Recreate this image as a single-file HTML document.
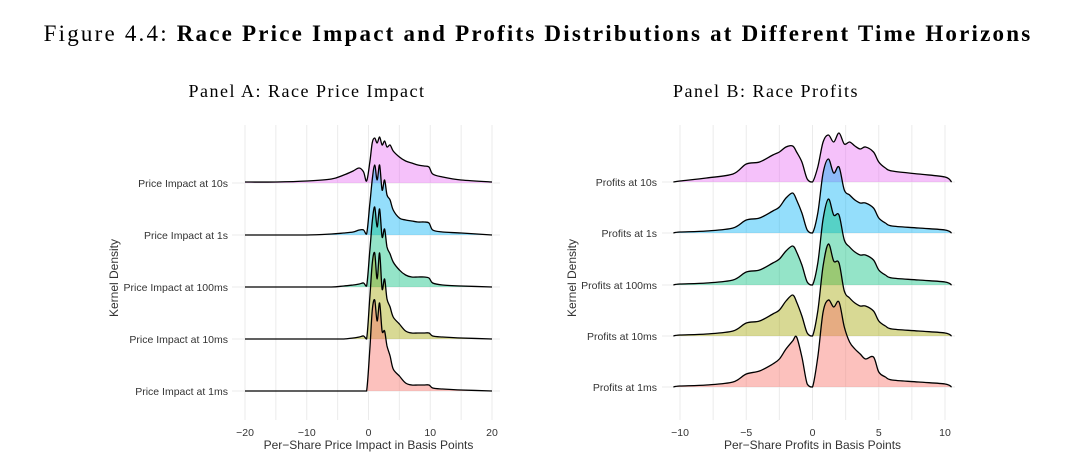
<!DOCTYPE html>
<html><head><meta charset="utf-8"><style>
body{margin:0;background:#fff;}
svg{display:block;}
.t{font-family:"Liberation Sans",sans-serif;fill:#333;}
</style></head><body>
<svg id="c" width="1080" height="466" viewBox="0 0 1080 466" xmlns="http://www.w3.org/2000/svg">
<text x="538" y="41" text-anchor="middle" font-family="Liberation Serif,serif" font-size="23" letter-spacing="2.2" fill="#000">Figure 4.4: <tspan font-weight="bold">Race Price Impact and Profits Distributions at Different Time Horizons</tspan></text>
<text x="307" y="97" text-anchor="middle" font-family="Liberation Serif,serif" font-size="18" letter-spacing="1.5" fill="#000">Panel A: Race Price Impact</text>
<text x="766" y="97" text-anchor="middle" font-family="Liberation Serif,serif" font-size="18" letter-spacing="1.5" fill="#000">Panel B: Race Profits</text>
<g id="pa"></g>
<g id="pb"></g>
</svg>
<script>
const seriesNames=["10s","1s","100ms","10ms","1ms"];
const colors=["rgba(231,107,243,0.42)","rgba(0,176,246,0.42)","rgba(0,191,125,0.42)","rgba(163,165,0,0.42)","rgba(248,118,109,0.45)"];
const xA=[-20,-15,-10,-6,-4,-2.5,-1.5,-0.8,-0.3,0.2,0.6,1,1.4,1.8,2.2,2.6,3,3.5,4,5,6,7,8,9,9.8,10.4,12,15,20];
const a10s=[1,1,2,4,8,12,15,11,2,20,40,45,40,46,38,42,36,38,32,26,22,20,18,17,16,9,6,3,1];
const a1s=[0,0,0,1,2,3,5,5,1,30,55,70,55,70,45,55,40,35,25,17,15,14,13,13,12,5,3,2,0];
const a100ms=[0,0,0,0,1,2,3,4,1,35,65,80,60,78,50,58,40,33,25,17,12,10,10,10,9,4,2,1,0];
const a10ms=[0,0,0,0,0,1,2,3,0,40,75,86,60,86,50,60,40,32,22,15,8,6,6,6,6,3,2,1,0];
const a1ms=[0,0,0,0,0,0,0,0,0,40,80,91,70,88,60,60,45,35,22,15,8,6,6,6,6,3,2,1,0];
const xB=[-10.5,-10,-8,-6,-5,-4,-3,-2.5,-2,-1.5,-1.2,-0.8,-0.4,0,0.4,0.8,1.2,1.6,2,2.4,2.8,3.2,3.6,4,4.6,5,5.5,6,8,10,10.5];
const b10s=[0,1,4,8,18,20,27,30,35,36,30,20,3,0,15,40,47,40,49,38,40,36,33,35,30,20,14,11,8,5,0];
const b1s=[0,1,2,5,13,15,22,26,35,40,33,20,3,0,20,60,74,60,66,43,38,33,30,30,25,15,10,7,5,3,0];
const b100ms=[0,1,2,5,13,15,22,26,34,39,33,20,3,0,22,66,86,70,70,45,38,33,30,30,25,15,10,7,5,3,0];
const b10ms=[0,1,2,5,13,15,22,26,35,41,34,20,3,0,25,70,92,75,73,45,38,33,30,30,25,15,10,7,5,3,0];
const b1ms=[0,1,2,5,13,16,23,28,38,46,50,30,3,0,30,75,87,80,85,60,45,38,33,28,30,15,10,7,5,3,0];
const ticksA=[-20,-10,0,10,20];
const ticksB=[-10,-5,0,5,10];
const NS="http://www.w3.org/2000/svg";
function mk(p,tag,at){const e=document.createElementNS(NS,tag);for(const k in at)e.setAttribute(k,at[k]);p.appendChild(e);return e;}
function path(pts,close,base){let d="M"+pts[0][0]+","+pts[0][1];
 for(let i=0;i<pts.length-1;i++){const p0=pts[Math.max(0,i-1)],p1=pts[i],p2=pts[i+1],p3=pts[Math.min(pts.length-1,i+2)];
 const c1=[p1[0]+(p2[0]-p0[0])/6,p1[1]+(p2[1]-p0[1])/6],c2=[p2[0]-(p3[0]-p1[0])/6,p2[1]-(p3[1]-p1[1])/6];
 c1[1]=Math.min(c1[1],base);c2[1]=Math.min(c2[1],base);
 d+=" C"+c1[0].toFixed(1)+","+c1[1].toFixed(1)+" "+c2[0].toFixed(1)+","+c2[1].toFixed(1)+" "+p2[0].toFixed(1)+","+p2[1].toFixed(1);}
 if(close)d+=" L"+pts[pts.length-1][0]+","+base+" L"+pts[0][0]+","+base+" Z";return d;}
function panel(g,cfg){
 const sx=v=>cfg.x0+(v-cfg.d0)*(cfg.x1-cfg.x0)/(cfg.d1-cfg.d0);
 for(const v of cfg.grid){const l=mk(g,"line",{x1:sx(v),x2:sx(v),y1:cfg.top,y2:cfg.bot,stroke:"#ebebeb","stroke-width":1});
  
  }
 cfg.bases.forEach((b,i)=>{const l=mk(g,"line",{x1:cfg.gx0,x2:cfg.gx1,y1:b,y2:b,stroke:"#ebebeb","stroke-width":1});
  
  
  const t=mk(g,"text",{x:cfg.lx,y:b+4,"text-anchor":"end","font-size":10.5,class:"t"});t.textContent=cfg.prefix+seriesNames[i];
  
  });
 cfg.series.forEach((s,i)=>{const b=cfg.bases[i];const sy=v=>b-v*cfg.k;
  const pts=cfg.xs.map((x,j)=>[sx(x),sy(s[j])]);
  const f=mk(g,"path",{d:path(pts,true,b),fill:colors[i],stroke:"none"});
  
  
  const l=mk(g,"path",{d:path(pts,false,b),fill:"none",stroke:"#000","stroke-width":1.3});
  
  });
 for(const v of cfg.ticks){const t=mk(g,"text",{x:sx(v),y:436,"text-anchor":"middle","font-size":10.5,class:"t"});t.textContent=(v<0?"\u2212"+(-v):v);
  
  }
 const xt=mk(g,"text",{x:(cfg.x0+cfg.x1)/2,y:449,"text-anchor":"middle","font-size":12,class:"t",fill:"#000"});xt.textContent=cfg.xtitle;
 
 
 const yt=mk(g,"text",{x:0,y:0,"text-anchor":"middle","font-size":12,class:"t",transform:"translate("+cfg.ytx+",278) rotate(-90)"});yt.textContent="Kernel Density";
 
 
}
panel(document.getElementById("pa"),{x0:245,x1:492,d0:-20,d1:20,grid:[-20,-15,-10,-5,0,5,10,15,20],top:125,bot:420,gx0:232,gx1:500,
 bases:[183,235,287,339,391],lx:228,prefix:"Price Impact at ",series:[a10s,a1s,a100ms,a10ms,a1ms],xs:xA,k:1,ticks:ticksA,
 xtitle:"Per\u2212Share Price Impact in Basis Points",ytx:118});
panel(document.getElementById("pb"),{x0:680,x1:945,d0:-10,d1:10,grid:[-10,-7.5,-5,-2.5,0,2.5,5,7.5,10],top:125,bot:420,gx0:662,gx1:955,
 bases:[182,233,285,336,387],lx:657,prefix:"Profits at ",series:[b10s,b1s,b100ms,b10ms,b1ms],xs:xB,k:1,ticks:ticksB,
 xtitle:"Per\u2212Share Profits in Basis Points",ytx:576});
</script>
</body></html>
